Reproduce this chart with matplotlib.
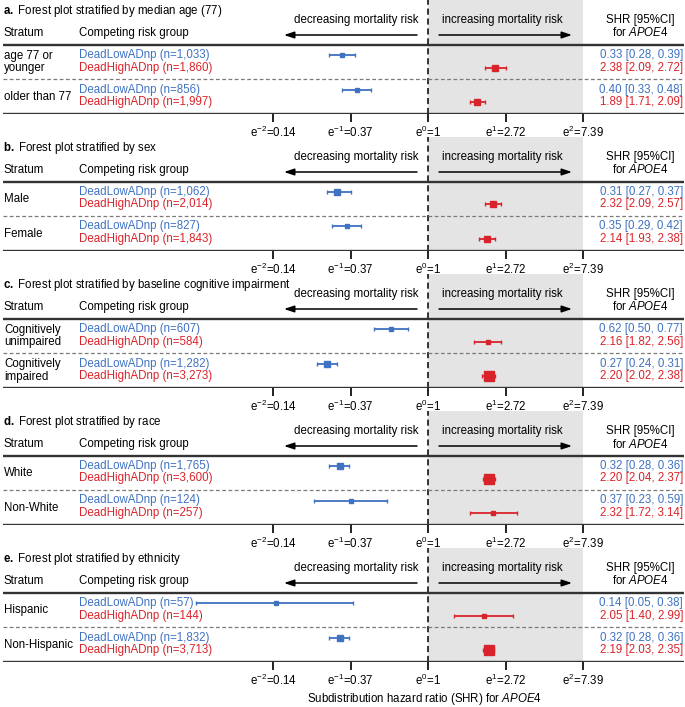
import matplotlib
matplotlib.use("Agg")
import matplotlib.pyplot as plt
import numpy as np
from matplotlib.ticker import NullLocator

plt.rcParams['font.family'] = ['Liberation Sans', 'DejaVu Sans']
plt.rcParams['mathtext.fontset'] = 'custom'
plt.rcParams['mathtext.rm'] = 'Liberation Sans'
plt.rcParams['mathtext.it'] = 'Liberation Sans:italic'
plt.rcParams['mathtext.bf'] = 'Liberation Sans:bold'

# data
letters = ["a.", "b.", "c.", "d.", "e."]
titles = ["Forest plot stratified by median age (77)",
          "Forest plot stratified by sex",
          "Forest plot stratified by baseline cognitive impairment",
          "Forest plot stratified by race",
          "Forest plot stratified by ethnicity"]
strata = [["age 77 or\nyounger", "older than 77"],
          ["Male", "Female"],
          ["Cognitively\nunimpaired", "Cognitively\nimpaired"],
          ["White", "Non-White"],
          ["Hispanic", "Non-Hispanic"]]
n_low = [[1033, 856], [1062, 827], [607, 1282], [1765, 124], [57, 1832]]
n_high = [[1860, 1997], [2014, 1843], [584, 3273], [3600, 257], [144, 3713]]
shr_low = [[0.33, 0.40], [0.31, 0.35], [0.62, 0.27], [0.32, 0.37], [0.14, 0.32]]
lo_low = [[0.28, 0.33], [0.27, 0.29], [0.50, 0.24], [0.28, 0.23], [0.05, 0.28]]
hi_low = [[0.39, 0.48], [0.37, 0.42], [0.77, 0.31], [0.36, 0.59], [0.38, 0.36]]
shr_high = [[2.38, 1.89], [2.32, 2.14], [2.16, 2.20], [2.20, 2.32], [2.05, 2.19]]
lo_high = [[2.09, 1.71], [2.09, 1.93], [1.82, 2.02], [2.04, 1.72], [1.40, 2.03]]
hi_high = [[2.72, 2.09], [2.57, 2.38], [2.56, 2.38], [2.37, 3.14], [2.99, 2.35]]
tick_exp = [-2, -1, 0, 1, 2]
tick_labels = [r"$\mathregular{e^{-2}}$=0.14", r"$\mathregular{e^{-1}}$=0.37",
               r"$\mathregular{e^{0}}$=1", r"$\mathregular{e^{1}}$=2.72",
               r"$\mathregular{e^{2}}$=7.39"]

BLUE = '#3f72c2'
RED = '#d9232a'
FS = 8.3
W, H = 685, 707
x0px, epx = 428, 77.5   # pixel of e^0 and pixels per e-unit


def fx(px):
    return px / W


fig = plt.figure(figsize=(6.85, 7.07), dpi=100)

for k in range(5):
    ty = 11 + 137 * k
    top, bot = ty - 11, ty + 103
    ax = fig.add_axes([0, 1 - bot / H, 1, (bot - top) / H])
    ax.set_xscale('log', base=np.e)
    ax.set_xlim(np.exp(-x0px / epx), np.exp((W - x0px) / epx))
    ax.set_ylim(103, -11)
    ax.patch.set_alpha(0)
    for s in ax.spines.values():
        s.set_visible(False)
    ax.yaxis.set_visible(False)
    ax.set_xticks(np.exp(tick_exp))
    ax.set_xticklabels(tick_labels)
    ax.xaxis.set_minor_locator(NullLocator())
    ax.tick_params(axis='x', direction='out', length=5.5, width=1.4, pad=2.5,
                   labelsize=FS, color='#222222')

    # shaded region and reference line
    ax.axvspan(1, np.exp(2), color='#e4e4e4', lw=0, zorder=0)
    ax.axvline(1, color='black', ls=(0, (4, 2.5)), lw=1.1, zorder=1)

    tr = ax.get_yaxis_transform()
    # header
    ax.text(fx(3), 0, r"$\mathbf{" + letters[k][0] + ".}$ " + titles[k],
            transform=tr, fontsize=FS, va='center', ha='left')
    ax.text(fx(419), 9, "decreasing mortality risk", transform=tr,
            fontsize=FS, va='center', ha='right')
    ax.text(fx(442), 9, "increasing mortality risk", transform=tr,
            fontsize=FS, va='center', ha='left')
    ax.text(fx(640), 9, "SHR [95%CI]", transform=tr, fontsize=FS,
            va='center', ha='center')
    ax.text(fx(640), 22, r"for $\mathit{APOE4}$", transform=tr, fontsize=FS,
            va='center', ha='center')
    ax.text(fx(4), 22, "Stratum", transform=tr, fontsize=FS, va='center')
    ax.text(fx(79), 22, "Competing risk group", transform=tr, fontsize=FS,
            va='center')
    ax.annotate("", xy=(fx(284), 24), xytext=(fx(417), 24),
                xycoords=tr, textcoords=tr,
                arrowprops=dict(arrowstyle='-|>,head_length=0.6,head_width=0.2',
                                lw=1.1, color='black', shrinkA=0, shrinkB=0))
    ax.annotate("", xy=(fx(572), 24), xytext=(fx(439), 24),
                xycoords=tr, textcoords=tr,
                arrowprops=dict(arrowstyle='-|>,head_length=0.6,head_width=0.2',
                                lw=1.1, color='black', shrinkA=0, shrinkB=0))

    # rules
    ax.plot([fx(3), fx(684)], [34, 34], transform=tr, color='#333333', lw=1.7,
            solid_capstyle='butt', zorder=3)
    ax.plot([fx(3), fx(684)], [103, 103], transform=tr, color='#333333', lw=1.7,
            solid_capstyle='butt', zorder=3)
    ax.plot([fx(3), fx(684)], [68, 68], transform=tr, color='#7a7a7a', lw=0.9,
            ls=(0, (3, 2)), zorder=3)

    for j in range(2):
        yb = 44 + 34.5 * j
        yr = yb + 12.5
        # stratum label
        lines = strata[k][j].split("\n")
        if len(lines) == 2:
            ax.text(fx(4), yb + 1, lines[0], transform=tr, fontsize=FS, va='center')
            ax.text(fx(4), yr + 1, lines[1], transform=tr, fontsize=FS, va='center')
        else:
            ax.text(fx(4), (yb + yr) / 2 + 1, lines[0], transform=tr,
                    fontsize=FS, va='center')
        rows = [(yb, BLUE, "DeadLowADnp", n_low, shr_low, lo_low, hi_low),
                (yr, RED, "DeadHighADnp", n_high, shr_high, lo_high, hi_high)]
        for y, c, name, nn, est, lo, hi in rows:
            n = nn[k][j]
            e, l, h = est[k][j], lo[k][j], hi[k][j]
            ax.text(fx(79), y, f"{name} (n={n:,})", transform=tr, fontsize=FS,
                    va='center', color=c)
            ax.text(fx(683), y, f"{e:.2f} [{l:.2f}, {h:.2f}]", transform=tr,
                    fontsize=FS, va='center', ha='right', color=c)
            ms = (3.0 + 7.0 * n / 3713) * 0.72
            ax.errorbar([e], [y], xerr=[[e - l], [h - e]], fmt='s', ms=ms,
                        color=c, ecolor=c, elinewidth=1.3, capsize=1.6,
                        capthick=1.0, zorder=4)

fig.text(fx(425), 1 - 699 / H,
         r"Subdistribution hazard ratio (SHR) for $\mathit{APOE4}$",
         fontsize=FS, ha='center', va='center')

fig.savefig("out.png", dpi=100)
